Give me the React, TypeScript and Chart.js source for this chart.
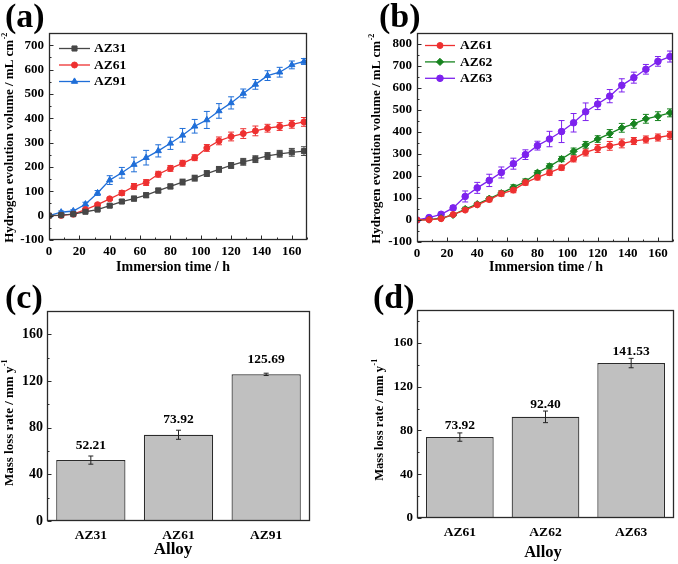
import React, { useEffect, useRef } from "react";
import { Chart, registerables } from "chart.js";
import { drawPoint } from "chart.js/helpers";

Chart.register(...registerables);

const FONT = '"Liberation Serif", "Times New Roman", serif';

// ---- data ----
const hours = [0, 8, 16, 24, 32, 40, 48, 56, 64, 72, 80, 88, 96, 104, 112, 120, 128, 136, 144, 152, 160, 168];

const az31 = [0, 2, 6, 16, 25, 41, 58, 70, 84, 103, 120, 138, 154, 173, 190, 206, 221, 232, 245, 254, 260, 265];
const az31Err = [0, 2, 3, 4, 5, 6, 8, 10, 10, 10, 10, 12, 12, 12, 12, 12, 14, 14, 14, 14, 16, 18];

const az61 = [0, 1, 6, 25, 45, 69, 93, 120, 136, 170, 194, 215, 238, 278, 307, 325, 337, 348, 359, 366, 375, 385];
const az61Err = [0, 2, 3, 5, 6, 6, 10, 12, 12, 12, 12, 12, 12, 14, 16, 18, 20, 20, 16, 16, 16, 18];

const az91 = [0, 14, 19, 47, 93, 146, 176, 210, 238, 266, 297, 330, 367, 393, 430, 463, 502, 539, 575, 589, 619, 633];
const az91Err = [0, 5, 5, 8, 10, 18, 22, 30, 30, 25, 25, 28, 28, 35, 30, 25, 18, 20, 20, 20, 16, 12];

const az62 = [0, 2, 8, 23, 50, 72, 97, 122, 148, 175, 215, 244, 277, 312, 342, 368, 393, 419, 437, 460, 472, 487];
const az62Err = [0, 3, 3, 5, 8, 8, 8, 10, 12, 12, 10, 12, 12, 15, 15, 15, 18, 20, 20, 20, 20, 18];

const az63 = [0, 11, 26, 55, 107, 146, 180, 216, 256, 297, 338, 368, 402, 442, 492, 527, 563, 612, 647, 685, 721, 743];
const az63Err = [0, 5, 8, 10, 25, 25, 28, 25, 25, 22, 20, 35, 50, 42, 40, 25, 30, 30, 25, 22, 22, 25];

const alloysC = ["AZ31", "AZ61", "AZ91"];
const rateC = [52.21, 73.92, 125.69];
const rateCErr = [3.5, 3.9, 1.0];

const alloysD = ["AZ61", "AZ62", "AZ63"];
const rateD = [73.92, 92.4, 141.53];
const rateDErr = [3.8, 5.3, 4.3];

// ---- colors ----
const GRAY = "#474747";
const RED = "#ee3030";
const BLUE = "#1f6ed8";
const GREEN = "#17831f";
const PURPLE = "#7d22ee";

type Decor = {
  label: string;
  labelX: number;
  labelY: number;
  labelSize: number;
  yTitle: string;
  ySup: string;
  yTitleX: number;
  yTitleY: number;
  yTitleSize: number;
  xTitle: string;
  xTitleX: number;
  xTitleY: number;
  xTitleSize: number;
  xStep?: number;
  yStep: number;
  legend?: { x0: number; x1: number; tx: number; y0: number; gap: number; size: number };
  errors: number[][];
  errorsBehind: boolean;
  capHalf: number;
  barLabelOffset?: number;
  barLabelSize?: number;
};

function valOf(d: any): number {
  return typeof d === "number" ? d : d.y;
}

function makeDecor(cfg: Decor) {
  const drawErrors = (chart: any) => {
    const ctx = chart.ctx;
    const ys = chart.scales.y;
    ctx.save();
    chart.data.datasets.forEach((ds: any, i: number) => {
      const errs = cfg.errors[i];
      if (!errs) return;
      const meta = chart.getDatasetMeta(i);
      const col = ds.errColor || ds.borderColor;
      ctx.strokeStyle = col;
      ctx.lineWidth = 1;
      meta.data.forEach((el: any, j: number) => {
        const e = errs[j];
        if (!e) return;
        const v = valOf(ds.data[j]);
        const yt = ys.getPixelForValue(v + e);
        const yb = ys.getPixelForValue(v - e);
        const x = el.x;
        ctx.beginPath();
        ctx.moveTo(x, yt);
        ctx.lineTo(x, yb);
        ctx.moveTo(x - cfg.capHalf, yt);
        ctx.lineTo(x + cfg.capHalf, yt);
        ctx.moveTo(x - cfg.capHalf, yb);
        ctx.lineTo(x + cfg.capHalf, yb);
        ctx.stroke();
      });
    });
    ctx.restore();
  };

  return {
    id: "decor",
    beforeDatasetsDraw(chart: any) {
      if (cfg.errorsBehind) drawErrors(chart);
    },
    afterDatasetsDraw(chart: any) {
      if (!cfg.errorsBehind) drawErrors(chart);
      if (cfg.barLabelOffset !== undefined) {
        const ctx = chart.ctx;
        ctx.save();
        ctx.fillStyle = "#000";
        ctx.font = `bold ${cfg.barLabelSize}px ${FONT}`;
        ctx.textAlign = "center";
        ctx.textBaseline = "middle";
        const ds = chart.data.datasets[0];
        chart.getDatasetMeta(0).data.forEach((el: any, j: number) => {
          ctx.fillText(Number(ds.data[j]).toFixed(2), el.x, el.y - cfg.barLabelOffset!);
        });
        ctx.restore();
      }
    },
    afterDraw(chart: any) {
      const ctx = chart.ctx;
      const a = chart.chartArea;
      const xs = chart.scales.x;
      const ys = chart.scales.y;
      ctx.save();
      // frame
      ctx.strokeStyle = "#2a2a2a";
      ctx.lineWidth = 1.3;
      const L = Math.round(a.left) + 0.5;
      const T = Math.round(a.top) + 0.5;
      const R = Math.round(a.right) - 0.5;
      const B = Math.round(a.bottom) - 0.5;
      ctx.strokeRect(L, T, R - L, B - T);
      // y ticks (major + minor, inward)
      ctx.lineWidth = 1;
      ctx.beginPath();
      const half = cfg.yStep / 2;
      for (let v = Math.ceil(ys.min / half) * half; v <= ys.max + 1e-9; v += half) {
        const major = Math.abs(v / cfg.yStep - Math.round(v / cfg.yStep)) < 1e-6;
        const py = Math.round(ys.getPixelForValue(v)) + 0.5;
        ctx.moveTo(L, py);
        ctx.lineTo(L + (major ? 4 : 2), py);
      }
      if (cfg.xStep) {
        const hx = cfg.xStep / 2;
        for (let v = Math.ceil(xs.min / hx) * hx; v <= xs.max + 1e-9; v += hx) {
          const major = Math.abs(v / cfg.xStep - Math.round(v / cfg.xStep)) < 1e-6;
          const px = Math.round(xs.getPixelForValue(v)) + 0.5;
          ctx.moveTo(px, B);
          ctx.lineTo(px, B - (major ? 4 : 2));
        }
      }
      ctx.stroke();

      // y title with superscript
      ctx.fillStyle = "#000";
      ctx.save();
      ctx.translate(cfg.yTitleX, cfg.yTitleY);
      ctx.rotate(-Math.PI / 2);
      ctx.textBaseline = "middle";
      ctx.textAlign = "left";
      ctx.font = `bold ${cfg.yTitleSize}px ${FONT}`;
      const w1 = ctx.measureText(cfg.yTitle).width;
      const supSize = Math.round(cfg.yTitleSize * 0.62);
      ctx.font = `bold ${supSize}px ${FONT}`;
      const w2 = ctx.measureText(cfg.ySup).width;
      const start = -(w1 + w2) / 2;
      ctx.font = `bold ${cfg.yTitleSize}px ${FONT}`;
      ctx.fillText(cfg.yTitle, start, 0);
      ctx.font = `bold ${supSize}px ${FONT}`;
      ctx.fillText(cfg.ySup, start + w1 + 0.5, -cfg.yTitleSize * 0.38);
      ctx.restore();

      // x title
      ctx.font = `bold ${cfg.xTitleSize}px ${FONT}`;
      ctx.textAlign = "center";
      ctx.textBaseline = "middle";
      ctx.fillText(cfg.xTitle, cfg.xTitleX, cfg.xTitleY);

      // panel label
      ctx.font = `bold ${cfg.labelSize}px ${FONT}`;
      ctx.textAlign = "left";
      ctx.textBaseline = "middle";
      ctx.fillText(cfg.label, cfg.labelX, cfg.labelY);

      // legend
      if (cfg.legend) {
        const lg = cfg.legend;
        chart.data.datasets.forEach((ds: any, i: number) => {
          const y = lg.y0 + i * lg.gap;
          ctx.strokeStyle = ds.borderColor;
          ctx.fillStyle = ds.pointBackgroundColor || ds.borderColor;
          ctx.lineWidth = ds.borderWidth;
          ctx.beginPath();
          ctx.moveTo(lg.x0, y);
          ctx.lineTo(lg.x1, y);
          ctx.stroke();
          ctx.lineWidth = 1;
          drawPoint(ctx, { pointStyle: ds.pointStyle, rotation: 0, radius: ds.pointRadius, borderWidth: 1 } as any, (lg.x0 + lg.x1) / 2, y);
          ctx.fillStyle = "#000";
          ctx.font = `bold ${lg.size}px ${FONT}`;
          ctx.textAlign = "left";
          ctx.textBaseline = "middle";
          ctx.fillText(ds.label, lg.tx, y + 0.5);
        });
      }
      ctx.restore();
    },
  };
}

function lineDataset(label: string, values: number[], color: string, pointStyle: string, radius: number) {
  return {
    label,
    data: hours.map((h, i) => ({ x: h, y: values[i] })),
    borderColor: color,
    backgroundColor: color,
    pointBackgroundColor: color,
    pointBorderColor: color,
    pointStyle,
    pointRadius: radius,
    pointBorderWidth: 1,
    borderWidth: 1.3,
    tension: 0,
    fill: false,
  };
}

function lineConfig(
  datasets: any[],
  yMax: number,
  yAxisW: number,
  xAxisH: number,
  padTop: number,
  padRight: number,
  decor: Decor
) {
  return {
    type: "line",
    data: { datasets },
    options: {
      responsive: false,
      animation: false,
      events: [],
      layout: { padding: { top: padTop, right: padRight, left: 0, bottom: 0 } },
      plugins: { legend: { display: false }, tooltip: { enabled: false } },
      scales: {
        x: {
          type: "linear",
          min: 0,
          max: 170,
          grid: { display: false, drawTicks: false },
          border: { display: false },
          ticks: { stepSize: 20, includeBounds: false, color: "#000", padding: 4, maxRotation: 0, font: { family: FONT, weight: "bold", size: 13 } },
          afterFit: (s: any) => {
            s.height = xAxisH;
          },
        },
        y: {
          type: "linear",
          min: -100,
          max: yMax,
          grid: { display: false, drawTicks: false },
          border: { display: false },
          ticks: { stepSize: 100, includeBounds: false, color: "#000", padding: 5, font: { family: FONT, weight: "bold", size: 13 } },
          afterFit: (s: any) => {
            s.width = yAxisW;
          },
        },
      },
    },
    plugins: [makeDecor(decor)],
  };
}

function barConfig(
  labels: string[],
  values: number[],
  yMax: number,
  yAxisW: number,
  xAxisH: number,
  padTop: number,
  padRight: number,
  yTickSize: number,
  decor: Decor
) {
  return {
    type: "bar",
    data: {
      labels,
      datasets: [
        {
          label: "Mass loss rate",
          data: values,
          backgroundColor: "#c0c0c0",
          borderColor: "#2b2b2b",
          errColor: "#222",
          borderWidth: 1.2,
          barPercentage: 0.79,
          categoryPercentage: 1,
        },
      ],
    },
    options: {
      responsive: false,
      animation: false,
      events: [],
      layout: { padding: { top: padTop, right: padRight, left: 0, bottom: 0 } },
      plugins: { legend: { display: false }, tooltip: { enabled: false } },
      scales: {
        x: {
          type: "category",
          grid: { display: false, drawTicks: false },
          border: { display: false },
          ticks: { color: "#000", padding: 6, font: { family: FONT, weight: "bold", size: 13.5 } },
          afterFit: (s: any) => {
            s.height = xAxisH;
          },
        },
        y: {
          type: "linear",
          min: 0,
          max: yMax,
          grid: { display: false, drawTicks: false },
          border: { display: false },
          ticks: { stepSize: 40, includeBounds: false, color: "#000", padding: 4, font: { family: FONT, weight: "bold", size: yTickSize } },
          afterFit: (s: any) => {
            s.width = yAxisW;
          },
        },
      },
    },
    plugins: [makeDecor(decor)],
  };
}

const W = 339;
const H = 282;

function Panel({ left, top, make }: { left: number; top: number; make: () => any }) {
  const ref = useRef<HTMLCanvasElement>(null);
  useEffect(() => {
    const chart = new Chart(ref.current as HTMLCanvasElement, make());
    return () => chart.destroy();
  }, []);
  return (
    <div style={{ position: "absolute", left, top, width: W, height: H }}>
      <canvas ref={ref} width={W} height={H} style={{ width: W, height: H, display: "block" }} />
    </div>
  );
}

const makeA = () =>
  lineConfig(
    [
      lineDataset("AZ31", az31, GRAY, "rect", 3.6),
      lineDataset("AZ61", az61, RED, "circle", 3),
      lineDataset("AZ91", az91, BLUE, "triangle", 3.6),
    ],
    750,
    49,
    42,
    33,
    32,
    {
      label: "(a)",
      labelX: 5,
      labelY: 18,
      labelSize: 34,
      yTitle: "Hydrogen evolution volume / mL cm",
      ySup: "-2",
      yTitleX: 10,
      yTitleY: 138,
      yTitleSize: 13,
      xTitle: "Immersion time / h",
      xTitleX: 173,
      xTitleY: 267,
      xTitleSize: 14,
      xStep: 20,
      yStep: 100,
      legend: { x0: 59, x1: 90, tx: 94, y0: 48.5, gap: 16.5, size: 13.5 },
      errors: [az31Err, az61Err, az91Err],
      errorsBehind: true,
      capHalf: 3,
    }
  );

const makeB = () =>
  lineConfig(
    [
      lineDataset("AZ61", az61, RED, "circle", 3),
      lineDataset("AZ62", az62, GREEN, "rectRot", 3.6),
      lineDataset("AZ63", az63, PURPLE, "circle", 3.3),
    ],
    850,
    78,
    40,
    33,
    3,
    {
      label: "(b)",
      labelX: 40,
      labelY: 18,
      labelSize: 34,
      yTitle: "Hydrogen evolution volume / mL cm",
      ySup: "-2",
      yTitleX: 38,
      yTitleY: 139,
      yTitleSize: 13,
      xTitle: "Immersion time / h",
      xTitleX: 207,
      xTitleY: 267,
      xTitleSize: 14,
      xStep: 20,
      yStep: 100,
      legend: { x0: 86, x1: 116, tx: 121, y0: 45.5, gap: 16.4, size: 13.5 },
      errors: [az61Err, az62Err, az63Err],
      errorsBehind: true,
      capHalf: 3,
    }
  );

const makeC = () =>
  barConfig(alloysC, rateC, 180, 47, 43, 29, 29, 14, {
    label: "(c)",
    labelX: 5,
    labelY: 17,
    labelSize: 34,
    yTitle: "Mass loss rate / mm y",
    ySup: "-1",
    yTitleX: 10,
    yTitleY: 141,
    yTitleSize: 13,
    xTitle: "Alloy",
    xTitleX: 173,
    xTitleY: 268,
    xTitleSize: 17,
    yStep: 40,
    errors: [rateCErr],
    errorsBehind: false,
    capHalf: 2.5,
    barLabelOffset: 15,
    barLabelSize: 13.5,
  });

const makeD = () =>
  barConfig(alloysD, rateD, 190, 78, 46, 28, 4, 13, {
    label: "(d)",
    labelX: 34,
    labelY: 17,
    labelSize: 34,
    yTitle: "Mass loss rate / mm y",
    ySup: "-1",
    yTitleX: 41,
    yTitleY: 138,
    yTitleSize: 12.5,
    xTitle: "Alloy",
    xTitleX: 204,
    xTitleY: 271,
    xTitleSize: 16.5,
    yStep: 40,
    errors: [rateDErr],
    errorsBehind: false,
    capHalf: 2.5,
    barLabelOffset: 12,
    barLabelSize: 13.5,
  });

export default function App() {
  return (
    <div style={{ position: "absolute", left: 0, top: 0, width: 678, height: 564, background: "#fff", overflow: "hidden" }}>
      <Panel left={0} top={0} make={makeA} />
      <Panel left={339} top={0} make={makeB} />
      <Panel left={0} top={282} make={makeC} />
      <Panel left={339} top={282} make={makeD} />
    </div>
  );
}
